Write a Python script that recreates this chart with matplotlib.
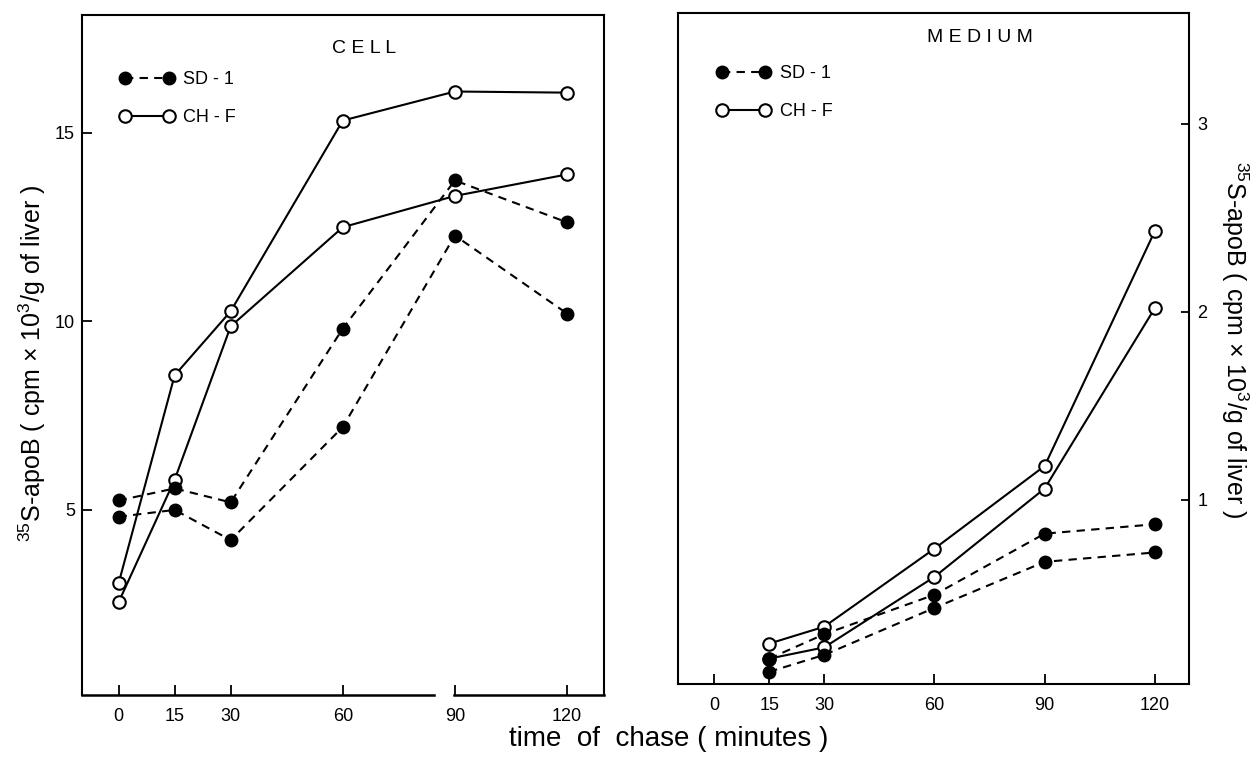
import matplotlib
matplotlib.use('Agg')
import matplotlib.pyplot as plt
from matplotlib.lines import Line2D

plt.rcParams['font.family'] = ['Liberation Sans', 'DejaVu Sans']
plt.rcParams['mathtext.fontset'] = 'custom'
plt.rcParams['mathtext.rm'] = 'Liberation Sans'

# chase times (minutes)
minutes_cell = [0, 15, 30, 60, 90, 120]
minutes_medium = [15, 30, 60, 90, 120]
x_ticks = [0, 15, 30, 60, 90, 120]

# CELL panel (cpm x 10^3 / g of liver)
cell_sd1_a = [5.25, 5.57, 5.2, 9.81, 13.74, 12.63]
cell_sd1_b = [4.82, 5.0, 4.2, 7.2, 12.28, 10.21]
cell_chf_a = [3.05, 8.57, 10.27, 15.33, 16.1, 16.07]
cell_chf_b = [2.55, 5.8, 9.87, 12.5, 13.33, 13.9]
cell_yticks = [5, 10, 15]

# MEDIUM panel
medium_sd1_a = [0.155, 0.285, 0.495, 0.82, 0.87]
medium_sd1_b = [0.085, 0.175, 0.425, 0.67, 0.72]
medium_chf_a = [0.235, 0.325, 0.74, 1.18, 2.43]
medium_chf_b = [0.155, 0.215, 0.59, 1.06, 2.02]
medium_yticks = [1, 2, 3]

ylabel = r'$^{35}$S-apoB ( cpm $\times$ 10$^{3}$/g of liver )'

sd1_style = dict(color='k', lw=1.5, ls=(0, (4, 3)), marker='o', ms=9,
                 mfc='k', mec='k', zorder=4, clip_on=False)
chf_style = dict(color='k', lw=1.5, ls='-', marker='o', ms=9,
                 mfc='white', mec='k', mew=1.5, zorder=3, clip_on=False)


def add_legend(ax, x0, y0):
    h1 = Line2D([], [], **sd1_style)
    h2 = Line2D([], [], **chf_style)
    ax.legend([h1, h2], ['SD - 1', 'CH - F'], loc='upper left',
              bbox_to_anchor=(x0, y0), numpoints=2, handlelength=3.0,
              handletextpad=0.5, labelspacing=1.15, frameon=False,
              fontsize=13, borderaxespad=0)


fig = plt.figure(figsize=(12.57, 7.57), dpi=100)

# ---- CELL ----
ax1 = fig.add_axes([0.0652, 0.0819, 0.4153, 0.8983])
for y in (cell_chf_a, cell_chf_b):
    ax1.plot(minutes_cell, y, **chf_style)
for y in (cell_sd1_a, cell_sd1_b):
    ax1.plot(minutes_cell, y, **sd1_style)
ax1.set_xlim(-9.8, 129.9)
ax1.set_ylim(0.09, 18.13)
ax1.set_xticks(x_ticks)
ax1.set_yticks(cell_yticks)
ax1.tick_params(axis='y', direction='in', length=7, width=1.3, pad=5,
                labelsize=13)
ax1.tick_params(axis='x', direction='in', length=7, width=1.3, pad=9,
                labelsize=13)
for s in ('top', 'left', 'right'):
    ax1.spines[s].set_linewidth(1.5)
ax1.spines['bottom'].set_visible(False)
# broken bottom axis between 60 and 90
break_lo, break_hi = 84.5, 89.8
tr = ax1.get_xaxis_transform()
ax1.plot([-9.8, break_lo], [0, 0], color='k', lw=1.8, transform=tr,
         clip_on=False)
ax1.plot([break_hi, 129.9], [0, 0], color='k', lw=1.8, transform=tr,
         clip_on=False)
ax1.text(0.54, 0.951, 'C E L L', transform=ax1.transAxes, ha='center',
         va='center', fontsize=14)
ax1.set_ylabel(ylabel, fontsize=18, va='center')
ax1.yaxis.set_label_coords(-0.096, 0.488)
add_legend(ax1, 0.059, 0.928)

# ---- MEDIUM ----
ax2 = fig.add_axes([0.5394, 0.0964, 0.4065, 0.8864])
for y in (medium_chf_a, medium_chf_b):
    ax2.plot(minutes_medium, y, **chf_style)
for y in (medium_sd1_a, medium_sd1_b):
    ax2.plot(minutes_medium, y, **sd1_style)
ax2.set_xlim(-9.8, 129.3)
ax2.set_ylim(0.02, 3.59)
ax2.set_xticks(x_ticks)
ax2.set_yticks(medium_yticks)
ax2.yaxis.tick_right()
ax2.yaxis.set_label_position('right')
ax2.tick_params(axis='y', direction='in', length=6, width=1.3, pad=6,
                labelsize=13)
ax2.tick_params(axis='x', direction='in', length=7, width=1.3, pad=9,
                labelsize=13)
for s in ax2.spines.values():
    s.set_linewidth(1.5)
ax2.text(0.59, 0.963, 'M E D I U M', transform=ax2.transAxes, ha='center',
         va='center', fontsize=14)
ax2.set_ylabel(ylabel, fontsize=18, rotation=270, va='center')
ax2.yaxis.set_label_coords(1.09, 0.513)
add_legend(ax2, 0.061, 0.933)

fig.text(0.532, 0.024, 'time  of  chase ( minutes )', ha='center',
         va='center', fontsize=20)

fig.savefig('out.png', dpi=100)
